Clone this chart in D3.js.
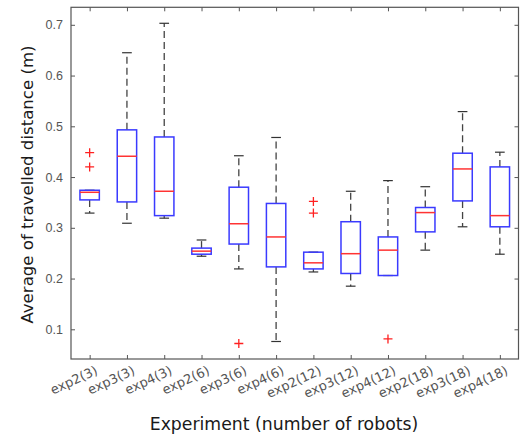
<!DOCTYPE html>
<html>
<head>
<meta charset="utf-8">
<script src="https://cdn.jsdelivr.net/npm/d3@7"></script>
<style>
  html, body { margin: 0; padding: 0; background: #fff; }
  svg { display: block; font-family: "DejaVu Sans", sans-serif; }
</style>
</head>
<body>
<svg id="chart" width="522" height="436"></svg>
<script>
// Experiment labels (experiment id and number of robots)
const categories = ["exp2(3)", "exp3(3)", "exp4(3)", "exp2(6)", "exp3(6)", "exp4(6)",
                    "exp2(12)", "exp3(12)", "exp4(12)", "exp2(18)", "exp3(18)", "exp4(18)"];

// Box statistics of the average travelled distance (m)
const whiskerLow  = [0.329, 0.309, 0.319, 0.244, 0.219, 0.076, 0.213, 0.185, 0.206, 0.256, 0.302, 0.248];
const q1          = [0.355, 0.351, 0.324, 0.248, 0.268, 0.223, 0.219, 0.210, 0.206, 0.292, 0.353, 0.302];
const medians     = [0.370, 0.441, 0.372, 0.254, 0.308, 0.282, 0.231, 0.249, 0.256, 0.330, 0.416, 0.324];
const q3          = [0.374, 0.493, 0.479, 0.260, 0.380, 0.348, 0.252, 0.312, 0.282, 0.340, 0.447, 0.420];
const whiskerHigh = [0.374, 0.645, 0.703, 0.276, 0.442, 0.478, 0.252, 0.372, 0.393, 0.381, 0.529, 0.449];

// Outliers per experiment
const outliers = [[0.448, 0.420], [], [], [], [0.072], [], [0.352, 0.329], [], [0.081], [], [], []];

const yTicks = [0.1, 0.2, 0.3, 0.4, 0.5, 0.6, 0.7];

const svg = d3.select("#chart");
const margin = { left: 71, right: 3.5, top: 7.3, bottom: 77 };
const W = 522, H = 436;
const x0 = margin.left, x1 = W - margin.right, y0 = margin.top, y1 = H - margin.bottom;

const x = d3.scaleLinear().domain([0.5, categories.length + 0.5]).range([x0, x1]);
const y = d3.scaleLinear().domain([0.0415, 0.7345]).range([y1, y0]);

const axisColor = "#555";
const tickColor = "#555";

// Frame
svg.append("rect")
  .attr("x", x0).attr("y", y0).attr("width", x1 - x0).attr("height", y1 - y0)
  .attr("fill", "none").attr("stroke", axisColor).attr("stroke-width", 1.2);

// Y axis (ticks inward, mirrored on the right)
const yAxis = svg.append("g").attr("transform", `translate(${x0},0)`)
  .call(d3.axisLeft(y).tickValues(yTicks).tickFormat(d3.format(".1f")).tickSizeInner(-4).tickSizeOuter(0).tickPadding(8));
const yAxisR = svg.append("g").attr("transform", `translate(${x1},0)`)
  .call(d3.axisRight(y).tickValues(yTicks).tickSizeInner(-4).tickSizeOuter(0).tickFormat(""));

// X axis (ticks inward, mirrored on top)
const idx = d3.range(1, categories.length + 1);
const xAxis = svg.append("g").attr("transform", `translate(0,${y1})`)
  .call(d3.axisBottom(x).tickValues(idx).tickSizeInner(-4).tickSizeOuter(0).tickFormat(""));
const xAxisT = svg.append("g").attr("transform", `translate(0,${y0})`)
  .call(d3.axisTop(x).tickValues(idx).tickSizeInner(-4).tickSizeOuter(0).tickFormat(""));

[yAxis, yAxisR, xAxis, xAxisT].forEach(g => {
  g.select(".domain").remove();
  g.selectAll(".tick line").attr("stroke", axisColor).attr("stroke-width", 1);
});
yAxis.selectAll(".tick text").attr("fill", tickColor).attr("font-size", 12.5);

// Rotated category labels
svg.append("g").selectAll("text").data(categories).join("text")
  .attr("transform", (d, i) => `translate(${x(i + 1) + 5},${y1 + 6}) rotate(-25)`)
  .attr("text-anchor", "end")
  .attr("dy", "0.72em")
  .attr("font-size", 13)
  .attr("fill", tickColor)
  .text(d => d);

// Axis titles
svg.append("text")
  .attr("x", 284).attr("y", 430)
  .attr("text-anchor", "middle").attr("font-size", 17.3).attr("fill", "#1a1a1a")
  .text("Experiment (number of robots)");
svg.append("text")
  .attr("transform", `translate(33,184.5) rotate(-90)`)
  .attr("text-anchor", "middle").attr("font-size", 16.6).attr("fill", "#1a1a1a")
  .text("Average of travelled distance (m)");

// Boxes
const boxHalf = (x(2) - x(1)) * 0.26;
const capHalf = boxHalf / 2;
const g = svg.append("g");
const boxes = g.selectAll("g.box").data(categories).join("g").attr("class", "box");

// Whiskers (dashed)
boxes.append("line")
  .attr("x1", (d, i) => x(i + 1)).attr("x2", (d, i) => x(i + 1))
  .attr("y1", (d, i) => y(q3[i])).attr("y2", (d, i) => y(whiskerHigh[i]))
  .attr("stroke", "#444").attr("stroke-width", 1.3).attr("stroke-dasharray", "7,4");
boxes.append("line")
  .attr("x1", (d, i) => x(i + 1)).attr("x2", (d, i) => x(i + 1))
  .attr("y1", (d, i) => y(q1[i])).attr("y2", (d, i) => y(whiskerLow[i]))
  .attr("stroke", "#444").attr("stroke-width", 1.3).attr("stroke-dasharray", "7,4");
// Whisker caps
boxes.append("line")
  .attr("x1", (d, i) => x(i + 1) - capHalf).attr("x2", (d, i) => x(i + 1) + capHalf)
  .attr("y1", (d, i) => y(whiskerHigh[i])).attr("y2", (d, i) => y(whiskerHigh[i]))
  .attr("stroke", "#333").attr("stroke-width", 1.2);
boxes.append("line")
  .attr("x1", (d, i) => x(i + 1) - capHalf).attr("x2", (d, i) => x(i + 1) + capHalf)
  .attr("y1", (d, i) => y(whiskerLow[i])).attr("y2", (d, i) => y(whiskerLow[i]))
  .attr("stroke", "#333").attr("stroke-width", 1.2);
// Box body
boxes.append("rect")
  .attr("x", (d, i) => x(i + 1) - boxHalf).attr("width", boxHalf * 2)
  .attr("y", (d, i) => y(q3[i])).attr("height", (d, i) => y(q1[i]) - y(q3[i]))
  .attr("fill", "none").attr("stroke", "#3a3aff").attr("stroke-width", 1.5);
// Median
boxes.append("line")
  .attr("x1", (d, i) => x(i + 1) - boxHalf).attr("x2", (d, i) => x(i + 1) + boxHalf)
  .attr("y1", (d, i) => y(medians[i])).attr("y2", (d, i) => y(medians[i]))
  .attr("stroke", "#ff3333").attr("stroke-width", 1.5);

// Outliers as red plus markers
const pts = categories.flatMap((c, i) => outliers[i].map(v => ({ i, v })));
g.selectAll("path.out").data(pts).join("path").attr("class", "out")
  .attr("d", d => {
    const cx = x(d.i + 1), cy = y(d.v), r = 4.5;
    return `M${cx - r},${cy}H${cx + r}M${cx},${cy - r}V${cy + r}`;
  })
  .attr("stroke", "#ff2020").attr("stroke-width", 1.3).attr("fill", "none");
</script>
</body>
</html>
